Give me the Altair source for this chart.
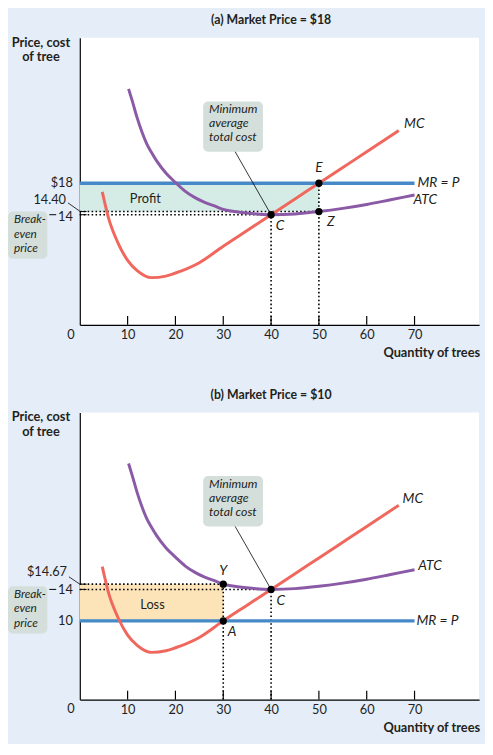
import altair as alt
import pandas as pd

# ---------------- data ----------------
MC_Q = [4.7, 6, 8, 10, 12, 15, 18, 21, 25, 30, 35, 40, 45, 50, 55, 60, 66.7]
MC_COST = [16.9, 13.6, 10.4, 8.2, 6.9, 6.0, 6.2, 6.8, 7.9, 10.0, 12.0, 14.0, 16.0, 18.0, 20.0, 22.0, 24.7]
ATC_Q = [10.2, 11, 12, 13, 14, 15, 16, 18, 20, 22, 24, 26, 28, 30, 33, 36, 40, 45, 50, 55, 60, 65, 70]
ATC_COST = [30.0, 28.4, 26.3, 24.5, 23.0, 21.9, 20.9, 19.3, 18.1, 17.0, 16.2, 15.6, 15.15, 14.67,
            14.35, 14.15, 14.0, 14.1, 14.4, 14.8, 15.3, 15.9, 16.5]
X_TICKS = [10, 20, 30, 40, 50, 60, 70]
MR_END = 70

# panel (a)
TITLE_A = "(a) Market Price = $18"
PRICE_A = 18
PTS_A_Q = [50, 40, 50]
PTS_A_P = [18, 14, 14.4]
PTS_A_LBL = ["E", "C", "Z"]
PROFIT_X = [0, 50]
PROFIT_Y = [14.4, 18]
DOT_H_A = [(0, 50, 14.4), (0, 40, 14)]
DOT_V_A = [(40, 0, 14), (50, 0, 18)]

# panel (b)
TITLE_B = "(b) Market Price = $10"
PRICE_B = 10
PTS_B_Q = [30, 40, 30]
PTS_B_P = [14.67, 14, 10]
PTS_B_LBL = ["Y", "C", "A"]
LOSS_X = [0, 30]
LOSS_Y = [10, 14.67]
DOT_H_B = [(0, 30, 14.67), (0, 40, 14)]
DOT_V_B = [(30, 0, 14.67), (40, 0, 14)]

# ---------------- style ----------------
BG = "#e5edf8"
MC_C = "#f0675d"
ATC_C = "#8b5aa6"
MR_C = "#4689c8"
PROFIT_C = "#d5ece6"
LOSS_C = "#fde3b8"
BOX_C = "#d4dfdc"
TXT = "#231f20"
FONT = "Lato"
FS = 13

W, H = 406, 292
XMAX = 83.5
YMAX = H / 8.0

xs = alt.Scale(domain=[0, XMAX], nice=False, zero=False)
ys = alt.Scale(domain=[0, YMAX], nice=False, zero=False)
x_axis = alt.Axis(values=X_TICKS, ticks=False, tickSize=0, labelPadding=4, labelFont=FONT,
                  labelFontSize=FS, labelColor=TXT, domainColor="black", domainWidth=1.2,
                  grid=False, title=None, labelFlush=False)
y_axis = alt.Axis(labels=False, ticks=False, grid=False, title=None,
                  domainColor="black", domainWidth=1.2)


def X(f):
    return alt.X(f, type="quantitative", scale=xs, axis=x_axis)


def Y(f):
    return alt.Y(f, type="quantitative", scale=ys, axis=y_axis)


def df(**kw):
    return pd.DataFrame({k: (v if isinstance(v, list) else [v]) for k, v in kw.items()})


mc_df = pd.DataFrame({"q": MC_Q, "cost": MC_COST})
atc_df = pd.DataFrame({"q": ATC_Q, "cost": ATC_COST})


def txt(data, text, x, y, dx=0, dy=0, align="center", baseline="middle", italic=False,
        bold=False, size=FS, lh=14.5):
    return alt.Chart(data).mark_text(
        text=text, dx=dx, dy=dy, align=align, baseline=baseline, font=FONT, fontSize=size,
        fontStyle="italic" if italic else "normal", fontWeight="bold" if bold else "normal",
        color=TXT, lineBreak="\n", lineHeight=lh
    ).encode(x=x, y=y)


def panel(title, price, pq, pp, plbl, lbl_off, fill_x, fill_y, fill_c, fill_lbl, fill_lbl_pos,
          dot_h, dot_v, ylabels, leader, curve_lbls):
    layers = []
    # filled profit / loss rectangle
    layers.append(alt.Chart(df(x=fill_x[0], x2=fill_x[1], y=fill_y[0], y2=fill_y[1]))
                  .mark_rect(color=fill_c).encode(x=X("x"), x2="x2", y=Y("y"), y2="y2"))
    # dotted guides
    hd = pd.DataFrame(dot_h, columns=["x", "x2", "y"])
    vd = pd.DataFrame(dot_v, columns=["x", "y", "y2"])
    layers.append(alt.Chart(hd).mark_rule(color="black", strokeWidth=1.6, strokeDash=[1.6, 2.4])
                  .encode(x=X("x"), x2="x2", y=Y("y")))
    layers.append(alt.Chart(vd).mark_rule(color="black", strokeWidth=1.6, strokeDash=[1.6, 2.4])
                  .encode(x=X("x"), y=Y("y"), y2="y2"))
    # short inner ticks on the y axis
    layers.append(alt.Chart(hd).mark_rule(color="black", strokeWidth=1)
                  .encode(x=alt.value(0), x2=alt.value(7), y=Y("y")))
    # MR = P line
    layers.append(alt.Chart(df(x=0, x2=MR_END, y=price)).mark_rule(color=MR_C, strokeWidth=3.5)
                  .encode(x=X("x"), x2="x2", y=Y("y")))
    # curves
    layers.append(alt.Chart(mc_df).mark_line(color=MC_C, strokeWidth=3, interpolate="monotone")
                  .encode(x=X("q"), y=Y("cost")))
    layers.append(alt.Chart(atc_df).mark_line(color=ATC_C, strokeWidth=3, interpolate="monotone")
                  .encode(x=X("q"), y=Y("cost")))
    # annotation box
    layers.append(alt.Chart(df(x=32.4, x2=40, y=22.1, y2=14)).mark_rule(color="black", strokeWidth=0.8)
                  .encode(x=X("x"), x2="x2", y=Y("y"), y2="y2"))
    layers.append(alt.Chart(df(x=25.8, x2=38.3, y=28.4, y2=22.0)).mark_rect(color=BOX_C, cornerRadius=5)
                  .encode(x=X("x"), x2="x2", y=Y("y"), y2="y2"))
    layers.append(txt(df(x=27.0, y=28.2), "Minimum\naverage\ntotal cost", X("x"), Y("y"),
                      align="left", baseline="top", italic=True, size=12.5, lh=14.5))
    # points
    pts = pd.DataFrame({"q": pq, "p": pp})
    layers.append(alt.Chart(pts).mark_circle(color="black", size=55, opacity=1)
                  .encode(x=X("q"), y=Y("p")))
    for q, p, l, (dx, dy) in zip(pq, pp, plbl, lbl_off):
        layers.append(txt(df(q=q, p=p), l, X("q"), Y("p"), dx=dx, dy=dy, italic=True, size=14))
    # curve labels
    for (l, q, p) in curve_lbls:
        layers.append(txt(df(q=q, p=p), l, X("q"), Y("p"), align="left", italic=True, size=14))
    # fill label
    layers.append(txt(df(q=fill_lbl_pos[0], p=fill_lbl_pos[1]), fill_lbl, X("q"), Y("p")))
    # x axis inner ticks and the 0 label
    layers.append(alt.Chart(pd.DataFrame({"t": X_TICKS})).mark_rule(color="black", strokeWidth=1.2)
                  .encode(x=X("t"), y=alt.value(H - 9), y2=alt.value(H)))
    layers.append(txt(df(a=0), "0", alt.value(-9), alt.value(H + 4), baseline="top"))
    # y labels
    for (l, v, xr, dy) in ylabels:
        layers.append(txt(df(v=v), l, alt.value(xr), Y("v"), dy=dy, align="right"))
    # dash before 14
    layers.append(alt.Chart(df(v=14)).mark_rule(color="black", strokeWidth=1)
                  .encode(x=alt.value(-31), x2=alt.value(-24), y=Y("v")))
    # leader from price label to axis
    layers.append(alt.Chart(df(y=leader[2], y2=leader[3])).mark_rule(color="black", strokeWidth=0.8)
                  .encode(x=alt.value(leader[0]), x2=alt.value(leader[1]), y=Y("y"), y2="y2"))
    # break-even box
    layers.append(alt.Chart(df(y=14.4, y2=8.4)).mark_rect(color=BOX_C, cornerRadius=5)
                  .encode(x=alt.value(-73), x2=alt.value(-33), y=Y("y"), y2="y2"))
    layers.append(txt(df(y=14.4), "Break-\neven\nprice", alt.value(-67), Y("y"), dy=3,
                      align="left", baseline="top", italic=True, size=12, lh=14.5))
    # titles
    layers.append(txt(df(a=0), title, alt.value(194.5), alt.value(-17.5), bold=True, size=12.5))
    layers.append(txt(df(a=0), "Price, cost\nof tree", alt.value(-39.5), alt.value(-1),
                      baseline="top", bold=True, lh=15))
    layers.append(txt(df(a=0), "Quantity of trees", alt.value(W + 1), alt.value(H + 29),
                      align="right", bold=True))
    return alt.layer(*layers).properties(width=W, height=H)


top = panel(
    TITLE_A, PRICE_A, PTS_A_Q, PTS_A_P, PTS_A_LBL, [(0, -15), (9, 12), (12, 11)],
    PROFIT_X, PROFIT_Y, PROFIT_C, "Profit", (13.7, 16.0), DOT_H_A, DOT_V_A,
    [("$18", 18, -7, 0), ("14.40", 14.4, -14, -12), ("14", 14, -7, 2)],
    (-12, 0, 15.5, 14.45),
    [("MC", 67.8, 25.5), ("MR = P", 70.6, 18), ("ATC", 69.8, 15.8)],
)
bottom = panel(
    TITLE_B, PRICE_B, PTS_B_Q, PTS_B_P, PTS_B_LBL, [(0, -13), (10, 12), (9, 11)],
    LOSS_X, LOSS_Y, LOSS_C, "Loss", (15.2, 12.0), DOT_H_B, DOT_V_B,
    [("$14.67", 14.67, -13, -12), ("14", 14, -7, 1), ("10", 10, -7, 0)],
    (-11, 0, 15.6, 14.67),
    [("MC", 67.5, 25.5), ("MR = P", 70.4, 10), ("ATC", 70.8, 17.0)],
)

chart = alt.vconcat(top, bottom, spacing=29).properties(
    background=BG, padding={"left": 0, "top": 0, "right": 5, "bottom": 3}
).configure_view(stroke=None, fill="white")

chart.save("out.html", embed_options={"renderer": "svg", "actions": False})
